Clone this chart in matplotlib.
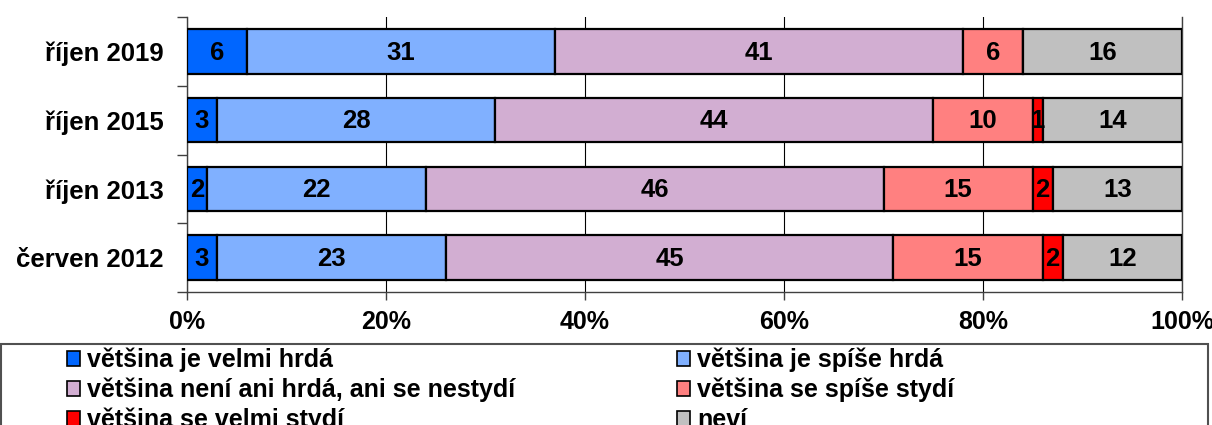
import matplotlib
matplotlib.use("Agg")
import matplotlib.pyplot as plt
from matplotlib.patches import Rectangle
import numpy as np

categories = ["říjen 2019", "říjen 2015", "říjen 2013", "červen 2012"]
series_names = ["většina je velmi hrdá", "většina je spíše hrdá",
                "většina není ani hrdá, ani se nestydí", "většina se spíše stydí",
                "většina se velmi stydí", "neví"]
velmi_hrda = [6, 3, 2, 3]
spise_hrda = [31, 28, 22, 23]
ani_ani = [41, 44, 46, 45]
spise_stydi = [6, 10, 15, 15]
velmi_stydi = [0, 1, 2, 2]
nevi = [16, 14, 13, 12]
series = [velmi_hrda, spise_hrda, ani_ani, spise_stydi, velmi_stydi, nevi]
colors = ["#0066FF", "#80B0FF", "#D2AED2", "#FF8080", "#FF0000", "#C0C0C0"]
xticks = [0, 20, 40, 60, 80, 100]
xtick_labels = ["0%", "20%", "40%", "60%", "80%", "100%"]

W, H = 1212, 425
fig = plt.figure(figsize=(W / 100, H / 100), dpi=100)
ax = fig.add_axes([187 / W, 1 - 292 / H, (1182 - 187) / W, (292 - 17) / H])

FONT = "Liberation Sans"
FS = 18.5
y = np.arange(len(categories))
left = np.zeros(len(categories))
handles = []
for name, vals, col in zip(series_names, series, colors):
    vals = np.array(vals, dtype=float)
    bars = ax.barh(y, vals, left=left, height=0.65, color=col, edgecolor="black",
                   linewidth=1.6, label=name, zorder=3)
    handles.append(bars)
    for yi, l, v in zip(y, left, vals):
        if v > 0:
            ax.text(l + v / 2, yi + 0.02, f"{int(v)}", ha="center", va="center",
                    fontsize=FS, fontweight="bold", family=FONT, zorder=4)
    left += vals

ax.set_xlim(0, 100)
ax.set_ylim(3.5, -0.5)
ax.set_xticks(xticks)
ax.set_xticklabels(xtick_labels, fontsize=18, fontweight="bold", family=FONT)
ax.set_yticks(y)
ax.set_yticklabels(categories, fontsize=FS, fontweight="bold", family=FONT)
ax.set_yticks(np.arange(-0.5, 4, 1), minor=True)
ax.tick_params(axis="y", which="major", length=0, pad=17)
ax.tick_params(axis="y", which="minor", length=7, width=1, color="#404040")
ax.tick_params(axis="x", which="major", length=6, width=1, color="#404040", pad=7)
ax.xaxis.grid(True, color="black", linewidth=0.8, zorder=0)
ax.set_axisbelow(True)
ax.spines["top"].set_visible(False)
for s in ["left", "bottom", "right"]:
    ax.spines[s].set_color("#404040")
    ax.spines[s].set_linewidth(1)

# legend frame
fig.patches.append(Rectangle((1 / W, -0.1), 1207 / W, 1 - 344 / H + 0.1,
                             transform=fig.transFigure, fill=False,
                             edgecolor="#505050", linewidth=1.5))

order = [0, 2, 4, 1, 3, 5]


def make_legend(colsp):
    lg = fig.legend([handles[i] for i in order], [series_names[i] for i in order],
                    ncol=2, loc="upper left",
                    bbox_to_anchor=(67 / W, 1 - 348 / H),
                    frameon=False, borderpad=0, borderaxespad=0,
                    handlelength=0.5, handleheight=0.55, handletextpad=0.3,
                    labelspacing=0.22, columnspacing=colsp,
                    prop={"family": FONT, "weight": "bold", "size": 18})
    for p in lg.get_patches():
        p.set_linewidth(1.2)
    return lg


leg = make_legend(10)
fig.canvas.draw()
r = fig.canvas.get_renderer()
pts = leg.get_patches()
x_col2 = pts[3].get_window_extent(r).x0
target = 677
fontpx = 18 * 100 / 72
new_sp = 10 + (target - x_col2) / fontpx
leg.remove()
leg = make_legend(new_sp)

fig.savefig("out.png", dpi=100)
